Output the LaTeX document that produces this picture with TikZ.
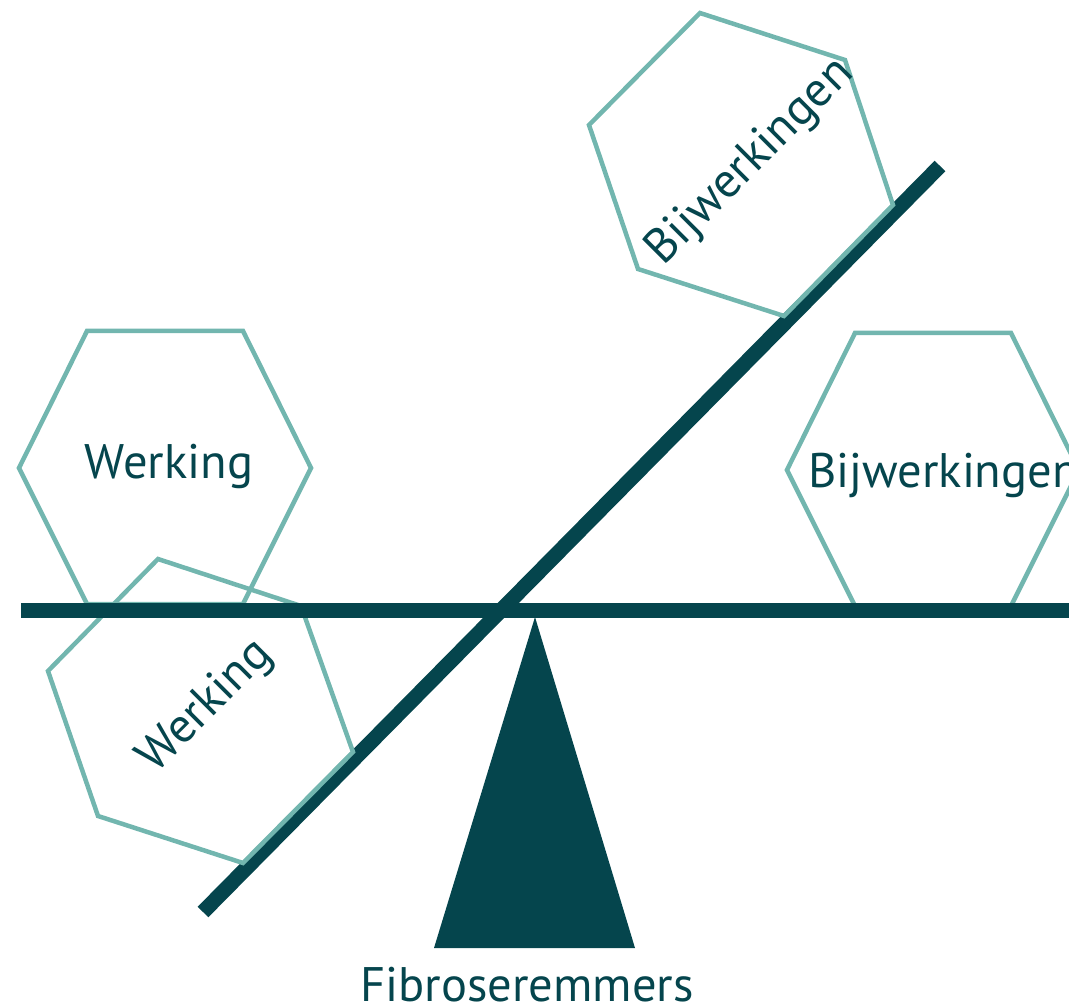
\documentclass[tikz,border=0pt]{standalone}
\usepackage{fontspec}
\setmainfont{PT Sans}
\definecolor{darkteal}{RGB}{5,69,77}
\definecolor{lightteal}{RGB}{114,182,175}
\tikzset{
  hexline/.style={draw=lightteal, line width=4.5pt, line join=miter},
  beam/.style={draw=darkteal, line width=15pt},
  lbl/.style={text=darkteal, inner sep=0pt, font=\fontsize{48.5}{48.5}\selectfont},
}
\begin{document}
\begin{tikzpicture}[x=1pt,y=-1pt]
\useasboundingbox (0,0) rectangle (1069,1008);
\clip (0,0) rectangle (1069,1008);
% diagonal beam
\coordinate (d1) at (203,912);
\coordinate (d2) at (940,166);
\draw[beam] (d1) -- (d2);
% hexagons
\draw[hexline] (87,331) -- (243,331) -- (311,468) -- (243,604) -- (87,604) -- (19,468) -- cycle;
\draw[hexline] (855,333) -- (1011,333) -- (1079,470) -- (1011,606) -- (855,606) -- (787,470) -- cycle;
\draw[hexline] (158,559) -- (301,606) -- (353,752) -- (243,863) -- (98,816) -- (48,671) -- cycle;
\draw[hexline] (700,13) -- (845,60) -- (893,205) -- (784,316) -- (638,269) -- (589,125) -- cycle;
% horizontal beam
\coordinate (h1) at (21,610);
\coordinate (h2) at (1080,610);
\draw[beam] (h1) -- (h2);
% fulcrum
\fill[darkteal] (535,617) -- (635,948) -- (434,948) -- cycle;
% labels
\node[lbl, anchor=base] (w1) at (169,478) {Werking};
\node[lbl, anchor=base west] (b1) at (808,487) {Bijwerkingen};
\node[lbl, rotate=45] (w2) at (206,707) {Werking};
\node[lbl, rotate=45] (b2) at (751,162) {Bijwerkingen};
\node[lbl, anchor=base] (f) at (527,1001) {Fibroseremmers};
\end{tikzpicture}
\end{document}
